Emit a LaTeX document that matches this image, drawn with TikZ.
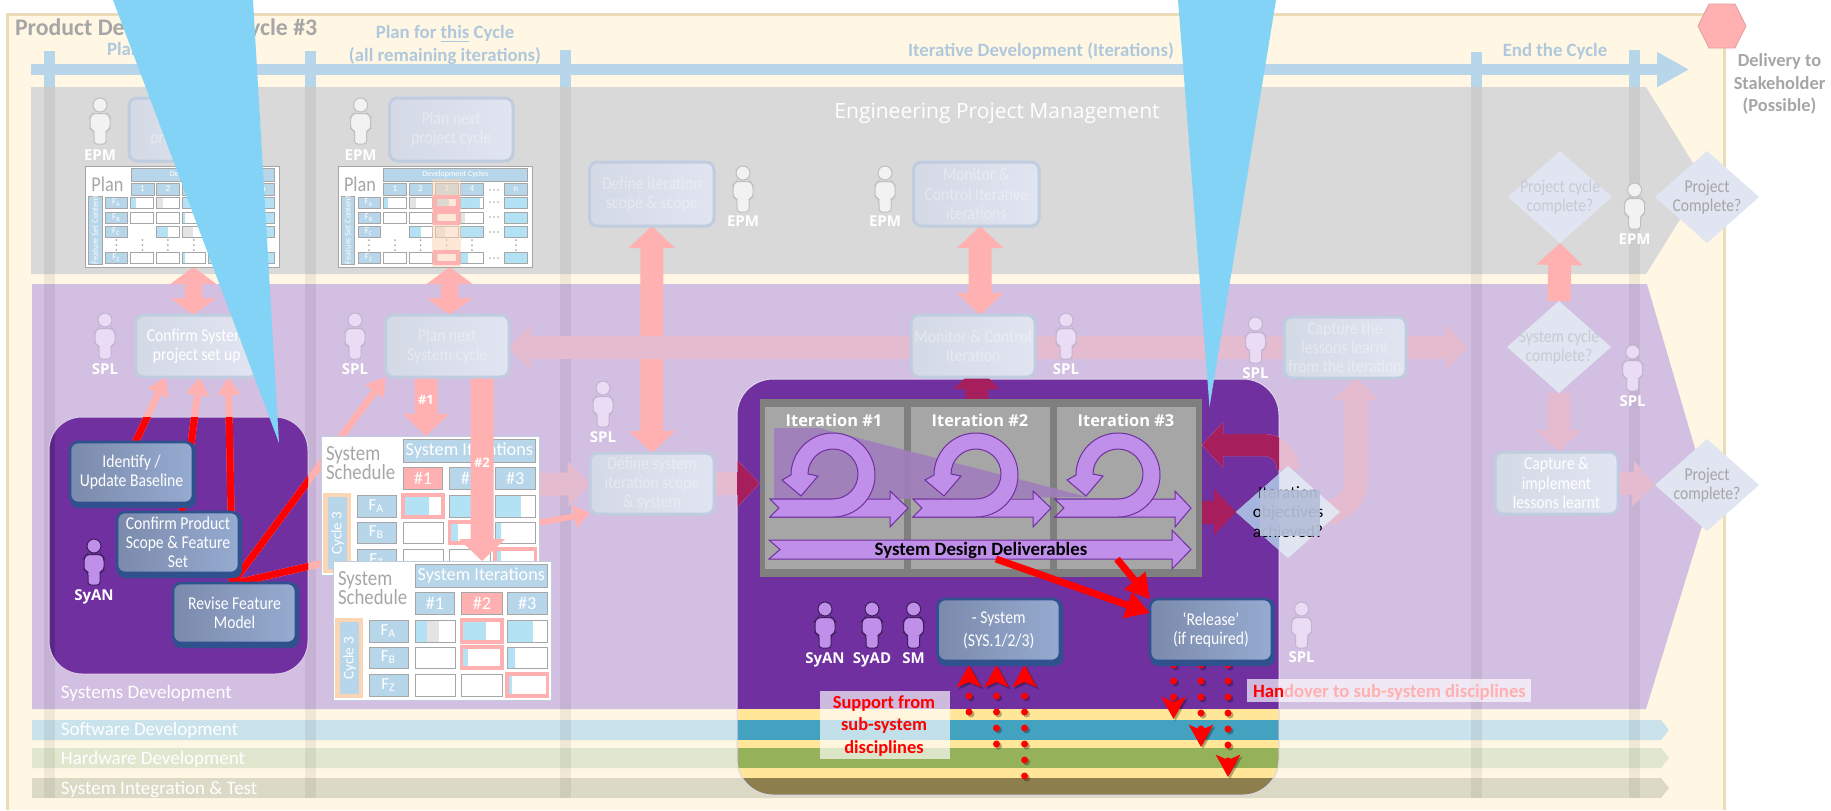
\documentclass[tikz,border=0pt]{standalone}
\usepackage{fontspec}
\setmainfont{Carlito}
\newfontfamily\osans{Open Sans}
\newfontfamily\cond[FakeStretch=0.87]{Carlito}
\usetikzlibrary{arrows.meta,shapes.geometric,calc}
\definecolor{frameY}{HTML}{FFF7E3}\definecolor{frameB}{HTML}{EBDCB8}
\definecolor{timeB}{HTML}{B7D6EA}\definecolor{timeT}{HTML}{AFC8DC}
\definecolor{grayband}{HTML}{D9D9D9}\definecolor{lilac}{HTML}{D3BFE1}
\definecolor{swc}{HTML}{C9E2EB}\definecolor{hwc}{HTML}{DFE7CE}\definecolor{sitc}{HTML}{DCD9C6}
\definecolor{purp}{HTML}{7030A0}\definecolor{purpd}{HTML}{5A2785}
\definecolor{pinkc}{HTML}{FFB0B0}\definecolor{pinkl}{HTML}{E4BBCF}\definecolor{crim}{HTML}{A71E5C}
\definecolor{wedge}{HTML}{82D3F5}\definecolor{framegr}{HTML}{7F7F7F}\definecolor{panelgr}{HTML}{A6A6A6}
\definecolor{loopc}{HTML}{C08FEA}\definecolor{edgeb}{HTML}{2F528F}\definecolor{shadeP}{HTML}{A07EBC}
\definecolor{blueL}{HTML}{7B8AAB}\definecolor{blueR}{HTML}{96ABD1}
\definecolor{lightL}{HTML}{D4DAE5}\definecolor{lightR}{HTML}{E0E5F1}\definecolor{lightE}{HTML}{C0CCDF}
\definecolor{cblue}{HTML}{B3E2F5}\definecolor{cgrey}{HTML}{E4E4E4}\definecolor{peach}{HTML}{FCD5B5}
\definecolor{greytx}{HTML}{A6A6A6}\definecolor{faintd}{HTML}{C6CAD4}
\definecolor{ybd}{HTML}{FFE699}\definecolor{teal2}{HTML}{43A2BF}\definecolor{grn2}{HTML}{95B25A}\definecolor{brn2}{HTML}{8C7F4D}
\definecolor{sfill}{HTML}{EADCF4}\definecolor{sedge}{HTML}{C2B4D0}\definecolor{dedge}{HTML}{3B1E5A}\definecolor{diab}{HTML}{A5B5DE}\definecolor{blurb}{HTML}{B4BFD9}
\newcounter{tn}
\newcommand\fz[2]{\fontsize{#1}{#2}\selectfont}
\newcommand\lbl[3]{\stepcounter{tn}\node[tx,#1] (t\arabic{tn}) at (#2) {#3};}
\newcommand\rnode[7]{\node[inner sep=0,outer sep=0,align=center,#1,minimum width={(#4-#2)*0.5pt},minimum height={(#5-#3)*0.5pt}] (#6) at ({(#2+#4)/2},{(#3+#5)/2}) {#7};}
\newcommand\bluebox[6]{\fill[edgeb,rounded corners=4pt] (#2,#3) rectangle ({#4+3},{#5+5});
  \rnode{bluebx}{#2}{#3}{#4}{#5}{#1}{#6}}
\newcommand\lightbox[7][]{\rnode{lightbx,text=white,#1}{#3}{#4}{#5}{#6}{#2}{#7}}
\newcommand\person[7]{\begin{scope}[shift={(#1,#2)}]
  \filldraw[fill=#3,draw=#4,line width=.5pt,rounded corners=1.5pt] (-10,19)--(-7,15.5)--(7,15.5)--(10,19)--(10,31)--(6,33)--(6,46)--(-6,46)--(-6,33)--(-10,31)--cycle;
  \filldraw[fill=#3,draw=#4,line width=.5pt] (0,7) circle[radius=3.5pt];
  \end{scope}
  \lbl{anchor=base,text=white,font={\osans\bfseries\fz{#7}{9}}}{#1,#5}{#6}}
\newcommand\cellb[7]{\fill[white] (#1,#2) rectangle (#3,#4);
  \fill[cblue] (#1,#2) rectangle ({#1+(#3-#1)*#5},#4);
  \fill[cgrey] ({#1+(#3-#1)*#5},#2) rectangle ({#1+(#3-#1)*(#5+#6)},#4);
  \draw[#7] (#1,#2) rectangle (#3,#4);}
\tikzset{
  tx/.style={inner sep=0,outer sep=0,align=center},
  bluebx/.style={rectangle,rounded corners=4pt,draw=edgeb,line width=1.3pt,left color=blueL,right color=blueR,text=white,font={\cond\fz{9}{9.6}}},
  lightbx/.style={rectangle,rounded corners=4pt,draw=lightE,line width=1.5pt,left color=lightL,right color=lightR,font={\cond\fz{9}{9.6}}},
  faintb/.style={text opacity=.35},
  dia/.style={diamond,fill=lightR,inner sep=0,outer sep=0,aspect=1.13},
  blk/.style={line width=11.5pt,-{Triangle[length=11pt,width=22.5pt]}},
  blkd/.style={line width=11.5pt,{Triangle[length=11pt,width=22.5pt]}-{Triangle[length=11pt,width=22.5pt]}},
  blks/.style={line width=8.5pt,{Triangle[length=8.5pt,width=22.5pt]}-{Triangle[length=8.5pt,width=22.5pt]}},
  edg/.style={draw=panelgr,line width=.5pt},
  pedg/.style={draw=pinkc,line width=1.6pt},
  hdr/.style={fill=timeB,draw=panelgr,line width=.4pt,text=white},
  loopst/.style={fill=loopc,draw=purp,line width=.5pt},
  dotln/.style={line width=3.5pt,dash pattern=on 0pt off 8pt,line cap=round},
  rarw/.style={-{Stealth[length=11pt,width=12pt,inset=2.5pt]}},
}
\newcommand\loopa[2]{\begin{scope}[shift={(#1,475)}]
  \draw[loopst] (-63,24)--(57,24)--(57,16)--(#2,33)--(57,52)--(57,42)--(-63,42)--(-54,33)--cycle;
  \draw[loopst] (-63,24)--(0,24) arc[start angle=-90,end angle=180,radius=12.5pt] -- (-15,1)--(-32,21)--(-51,5)--(-42,0) arc[start angle=180,end angle=-90,radius=21pt] --(-63,42)--(-54,33)--cycle;
  \end{scope}}
\newcommand\dotarrow[2]{\draw[dotln,rarw,black,opacity=.28,transform canvas={shift={(1pt,-1pt)}}] #1 -- #2;
  \draw[dotln,rarw,red] #1 -- #2;}
\newcommand\plantable[1]{
  \rnode{fill=white,draw=panelgr,line width=.5pt}{338}{166}{532}{267}{#1}{}
  \lbl{anchor=base west,text=greytx,font={\cond\fz{10.5}{11}}}{344,191}{Plan}
  \rnode{hdr,font={\fz{4}{4}}}{383.5}{168}{527}{181}{#1h}{Development Cycles}
  \foreach \a/\b/\c in {383.5/406.5/1,409/432/2,435/458/3,460.6/483/4,504.5/527/n}{
    \rnode{hdr,font={\fz{4.5}{5}}}{\a}{183}{\b}{195}{#1c\c}{\c}}
  \rnode{hdr,font={\fz{4.2}{5}}}{341}{197}{354.7}{263}{#1f}{\rotatebox{90}{Feature Set Content}}
  \foreach \y/\z/\c in {197/208/A,212/223/B,226/237/C,252/263/Z}{
    \rnode{hdr,font={\fz{4.5}{5}}}{358}{\y}{380}{\z}{#1r\c}{F\textsubscript{\c}}}
  \cellb{383.5}{197}{406.5}{208}{.2}{0}{edg}\cellb{409}{197}{432}{208}{0}{.3}{edg}\cellb{435}{197}{458}{208}{.6}{0}{edg}\cellb{460.6}{197}{483}{208}{.85}{0}{edg}\cellb{504.5}{197}{527}{208}{1}{0}{edg}
  \cellb{383.5}{212}{406.5}{223}{0}{0}{edg}\cellb{409}{212}{432}{223}{0}{0}{edg}\cellb{435}{212}{458}{223}{.12}{0}{edg}\cellb{460.6}{212}{483}{223}{0}{.2}{edg}\cellb{504.5}{212}{527}{223}{1}{0}{edg}
  \cellb{409}{226}{432}{237}{.5}{0}{edg}\cellb{435}{226}{458}{237}{0}{.45}{edg}\cellb{460.6}{226}{483}{237}{1}{0}{edg}\cellb{504.5}{226}{527}{237}{1}{0}{edg}
  \cellb{383.5}{252}{406.5}{263}{0}{0}{edg}\cellb{409}{252}{432}{263}{0}{0}{edg}\cellb{435}{252}{458}{263}{.12}{0}{edg}\cellb{460.6}{252}{483}{263}{.35}{0}{edg}\cellb{504.5}{252}{527}{263}{1}{0}{edg}
  \foreach \x in {369,395,420.5,446.5,472,516}{\foreach \y in {240,245,250}{\fill[panelgr] (\x,\y) circle[radius=.5pt];}}
  \foreach \y in {202,217,232,258}{\foreach \x in {490,494,498}{\fill[panelgr] (\x,\y) circle[radius=.45pt];}}
  \foreach \x in {490,494,498}{\fill[panelgr] (\x,190) circle[radius=.45pt];}
}
\newcommand\schedbase[2]{
  \ifnum#2=1 \colorlet{hdone}{pinkc}\else\colorlet{hdone}{timeB}\fi
  \ifnum#2=2 \colorlet{hdtwo}{pinkc}\else\colorlet{hdtwo}{timeB}\fi
  \rnode{fill=white,draw=lightE,line width=.4pt}{333}{561}{551.6}{700}{#1}{}
  \lbl{anchor=base west,text=greytx,font={\cond\fz{10.8}{10}}}{338,585}{System}
  \lbl{anchor=base west,text=greytx,font={\cond\fz{10.8}{10}}}{338,604}{Schedule}
  \rnode{hdr,font={\fz{9.1}{9}}}{415}{564}{547.6}{587}{#1h}{System Iterations}
  \rnode{hdr,font={\fz{9.1}{9}},fill=hdone}{415}{592}{454.8}{614}{#1n1}{\#1}
  \rnode{hdr,font={\fz{9.1}{9}},fill=hdtwo}{461.8}{592}{502}{614}{#1n2}{\#2}
  \rnode{hdr,font={\fz{9.1}{9}}}{507}{592}{547.6}{614}{#1n3}{\#3}
  \rnode{fill=peach}{335}{618}{363}{698}{#1cy}{}
  \rnode{fill=timeB,text=white,font={\fz{7.5}{8}}}{340}{622}{359}{694}{#1cyl}{\rotatebox{90}{Cycle 3}}
  \rnode{hdr,font={\fz{8.4}{9}}}{369}{620}{408}{642}{#1fa}{F\textsubscript{A}}
  \rnode{hdr,font={\fz{8.4}{9}}}{369}{647}{408}{668}{#1fb}{F\textsubscript{B}}
  \rnode{hdr,font={\fz{8.4}{9}}}{369}{674}{408}{696}{#1fz}{F\textsubscript{Z}}
}
\pgfdeclarelayer{bands}\pgfdeclarelayer{purple}\pgfdeclarelayer{linksA}\pgfdeclarelayer{schedA}\pgfdeclarelayer{links}\pgfdeclarelayer{over}
\pgfsetlayers{bands,purple,linksA,schedA,links,main,over}
\begin{document}
\begin{tikzpicture}[x=0.5pt,y=-0.5pt]
\useasboundingbox (0,0) rectangle (1831,810);
%% ---------- background bands
\begin{pgfonlayer}{bands}
\fill[white] (0,0) rectangle (1831,810);
\fill[frameY] (7,14) rectangle (1724,810);
\draw[frameB,line width=1.5pt] (7.5,810) -- (7.5,14.5) -- (1724,14.5) -- (1724,810);
\fill[grayband] (31,87) -- (1646,87) -- (1704,181) -- (1646,274) -- (31,274) -- cycle;
\fill[lilac] (32,284) -- (1647,284) -- (1710,500) -- (1646,709) -- (32,709) -- cycle;
\fill[swc] (32,720) -- (1661,720) -- (1669,730) -- (1661,740) -- (32,740) -- cycle;
\fill[hwc] (32,748) -- (1661,748) -- (1669,758) -- (1661,768) -- (32,768) -- cycle;
\fill[sitc] (32,778) -- (1661,778) -- (1669,788) -- (1661,798) -- (32,798) -- cycle;
\foreach \a/\b/\t in {43.5/54.5/51,305/315.5/51,559.5/570.5/49.5,1471/1482/52,1629/1640/49.5}{
  \fill[timeB] (\a,\t) rectangle (\b,87);
  \fill[black,opacity=.06] (\a,87) rectangle (\b,798);}
\coordinate (tlS) at (31,69.5); \coordinate (tlE) at (1689,69.5);
\draw[timeB,line width=5.5pt,-{Triangle[length=16pt,width=16.5pt]}] (tlS) -- (tlE);
\end{pgfonlayer}
%% ---------- purple boxes with the stronger stripes
\begin{pgfonlayer}{purple}
\begin{scope}
\path[clip,rounded corners=16.5pt] (49,417) rectangle (308,674);
\fill[purp] (49,417) rectangle (308,674);
\fill[purpd] (49,417) rectangle (54.5,674);
\end{scope}
\draw[white!75!purp,line width=.5pt,rounded corners=16.5pt] (49,417) rectangle (308,674);
\begin{scope}
\path[clip,rounded corners=18pt] (737,379) rectangle (1279,795);
\fill[purp] (737,379) rectangle (1279,795);
\fill[ybd] (737,709) rectangle (1279,795);
\fill[teal2] (737,720) rectangle (1279,740);
\fill[grn2] (737,748) rectangle (1279,768);
\fill[brn2] (737,778) rectangle (1279,795);
\end{scope}
\draw[white!80!purp,line width=.5pt,rounded corners=18pt] (737,379) rectangle (1279,795);
\end{pgfonlayer}
%% ---------- titles
\lbl{anchor=base west,text=greytx,font={\bfseries\fz{11.9}{13}}}{15,35}{Product Development Cycle \#3}
\lbl{anchor=base west,text=timeT,font={\bfseries\fz{9.4}{10}}}{107,55}{Plan}
\lbl{anchor=base,text=timeT,font={\bfseries\fz{9.4}{10}}}{445,38}{Plan for \underline{this} Cycle}
\lbl{anchor=base,text=timeT,font={\bfseries\fz{9.4}{10}}}{445,61}{(all remaining iterations)}
\lbl{anchor=base,text=timeT,font={\bfseries\fz{9.4}{10}}}{1041,56}{Iterative Development (Iterations)}
\lbl{anchor=base,text=timeT,font={\bfseries\fz{9.4}{10}}}{1555,56}{End the Cycle}
\lbl{anchor=base,text=white,font={\osans\fz{10.5}{12}}}{997,118}{Engineering Project Management}
\lbl{anchor=base west,text=white,font={\fz{9.5}{11}}}{61,698}{Systems Development}
\lbl{anchor=base west,text=white,font={\fz{9.5}{11}}}{61,735}{Software Development}
\lbl{anchor=base west,text=white,font={\fz{9.5}{11}}}{61,764}{Hardware Development}
\lbl{anchor=base west,text=white,font={\fz{9.5}{11}}}{61,794}{System Integration \& Test}
%% ---------- delivery
\fill[pinkc,draw=pinkc!90!black,line width=.4pt] (1698,26)--(1709,4)--(1735,4)--(1746,26)--(1735,48)--(1709,48)--cycle;
\lbl{text=greytx,font={\bfseries\fz{9.2}{11.3}}}{1779.5,84}{Delivery to\\Stakeholder\\(Possible)}
%% ---------- light boxes
\lightbox[faintb]{boxA}{129}{98}{252}{161}{Confirm\\project cycle}
\lightbox[faintb]{boxB}{389.5}{98}{513}{161}{Plan next\\project cycle}
\lightbox[faintb]{boxC}{589.5}{162}{714}{226}{Define iteration\\scope \& scope}
\lightbox[faintb]{boxD}{913.5}{162}{1039}{226}{Monitor \&\\Control Iterative\\iterations}
\lightbox{boxE}{135.6}{315}{258}{377}{Confirm System\\project set up}
\lightbox[faintb]{boxF}{385.5}{315}{509}{377}{Plan next\\System cycle}
\lightbox[faintb]{boxG}{590}{453}{714}{514}{Define system\\iteration scope\\\& system}
\lightbox[faintb]{boxH}{911}{315}{1035}{377}{Monitor \& Control\\Iteration}
\lightbox[faintb]{boxI}{1284}{317}{1406}{378}{Capture the\\lessons learnt\\from the iteration}
\lightbox{boxJ}{1495}{452}{1618}{514}{Capture \&\\implement\\lessons learnt}
%% ---------- diamonds
\node[dia,minimum width=52pt,minimum height=46pt] (d1) at (1560,197) {};
\node[dia,minimum width=52pt,minimum height=46pt] (d2) at (1707,197) {};
\node[dia,minimum width=52pt,minimum height=46pt] (d3) at (1559,347) {};
\node[dia,minimum width=52pt,minimum height=46pt] (d4) at (1707,485) {};
\node[dia,minimum width=52pt,minimum height=46pt] (d5) at (1288,512) {};
\begin{scope}
\path[clip,rounded corners=18pt] (737,379) rectangle (1279,795);
\fill[diab] (d5.north)--(d5.east)--(d5.south)--(d5.west)--cycle;
\end{scope}
\lbl{text=faintd,font={\cond\fz{9}{9.6}}}{1560,197}{Project cycle\\complete?}
\lbl{text=greytx,font={\cond\fz{9}{9.6}}}{1707,197}{Project\\Complete?}
\lbl{text=faintd,font={\cond\fz{9}{9.6}}}{1559,347}{System cycle\\complete?}
\lbl{text=greytx,font={\cond\fz{9}{9.6}}}{1707,485}{Project\\complete?}
\lbl{text=black,font={\fz{8.6}{9.6}}}{1288,512}{Iteration\\objectives\\achieved?}
\fill[fill=blurb,opacity=.93] (1260,490) rectangle (1320,536);
%% ---------- iteration frame
\rnode{fill=framegr}{759.5}{399}{1202}{577}{frame}{}
\rnode{fill=panelgr}{765}{407}{904}{569}{it1}{}
\rnode{fill=panelgr}{911}{407}{1050}{569}{it2}{}
\rnode{fill=panelgr}{1057}{407}{1196}{569}{it3}{}
\fill[shadeP,opacity=.9] (774,428)--(819,428)--(1088,497)--(774,500)--cycle;
\lbl{anchor=base,text=white,font={\osans\bfseries\fz{8.2}{9}}}{834,426}{Iteration  \#1}
\lbl{anchor=base,text=white,font={\osans\bfseries\fz{8.2}{9}}}{980,426}{Iteration \#2}
\lbl{anchor=base,text=white,font={\osans\bfseries\fz{8.2}{9}}}{1126,426}{Iteration \#3}
\loopa{833}{75}\loopa{976}{75}\loopa{1118}{73}
\draw[loopst] (769,540)--(1172,540)--(1172,530)--(1191,549.5)--(1172,569)--(1172,559)--(769,559)--(780,549.5)--cycle;
\lbl{text=black,font={\bfseries\fz{9.4}{10}}}{981,550}{System Design Deliverables}
\coordinate (dlv) at (981,559);
%% ---------- blue boxes
\bluebox{identify}{70}{442}{193}{503}{Identify /\\Update Baseline}
\bluebox{confirm}{117}{512}{239}{573}{Confirm Product\\Scope \& Feature\\Set}
\bluebox{revise}{173}{583}{296}{643}{Revise Feature\\Model}
\bluebox{sysbox}{937.5}{599}{1060}{661}{- System\\[2pt](SYS.1/2/3)}
\bluebox{rel}{1150}{599}{1272}{661}{‘Release’\\(if required)}
%% ---- red deliverables links (they lie over the frame)
\draw[red,line width=3.5pt,-{Triangle[length=12pt,width=13pt]}] ([xshift=7.5pt]dlv) -- ([yshift=8.5pt]rel.west);
\draw[red,line width=3.5pt,-{Triangle[length=12pt,width=13pt]}] ([xshift=68pt]dlv) -- (rel.north west);
%% ---------- people
\person{100}{98}{white!95!black}{black!25}{160}{EPM}{7.5}
\person{360.6}{98}{white!95!black}{black!25}{160}{EPM}{7.5}
\person{743}{166}{white!95!black}{black!25}{226}{EPM}{7.5}
\person{885}{166}{white!95!black}{black!25}{226}{EPM}{7.5}
\person{1634.6}{183}{white!95!black}{black!25}{244}{EPM}{7.5}
\person{105}{313}{sfill}{sedge}{374}{SPL}{7.5}
\person{355}{313}{sfill}{sedge}{374}{SPL}{7.5}
\person{603}{381}{sfill}{sedge}{442}{SPL}{7.5}
\person{1066}{313}{sfill}{sedge}{374}{SPL}{7.5}
\person{1255.5}{317}{sfill}{sedge}{378}{SPL}{7.5}
\person{1632.6}{345}{sfill}{sedge}{406}{SPL}{7.5}
\person{1301.6}{602}{sfill}{sedge}{662}{SPL}{7.5}
\person{94}{539}{loopc}{dedge}{600}{SyAN}{7.5}
\person{825}{602}{loopc}{dedge}{663}{SyAN}{7.5}
\person{872}{602}{loopc}{dedge}{663}{SyAD}{7.5}
\person{913.6}{602}{loopc}{dedge}{663}{SM}{7.5}
%% ---------- plan tables
\begin{scope}[shift={(-252.6,0)}]
\plantable{planA}
\end{scope}
\plantable{planB}
\fill[peach,opacity=.55] (432,179) rectangle (461,267);
\draw[pedg] (435,197) rectangle (458,208);
\draw[pedg] (435,212) rectangle (458,223);
\draw[pedg] (435,252) rectangle (458,263);
%% ---------- schedules
\begin{pgfonlayer}{schedA}
\begin{scope}[shift={(-12,-125)}]
\schedbase{schA}{1}
\cellb{415}{620}{455}{642}{.65}{0}{pedg}\cellb{461.8}{620}{502}{642}{.6}{0}{edg}\cellb{507}{620}{547.6}{642}{.63}{0}{edg}
\cellb{415}{647}{455}{668}{0}{0}{edg}\cellb{461.8}{647}{502}{668}{.2}{0}{pedg}\cellb{507}{647}{547.6}{668}{.15}{0}{edg}
\cellb{415}{674}{455}{696}{0}{0}{edg}\cellb{461.8}{674}{502}{696}{0}{0}{edg}\cellb{507}{674}{547.6}{696}{.15}{0}{pedg}
\end{scope}
\end{pgfonlayer}
\schedbase{schB}{2}
\cellb{415}{620}{455}{642}{.3}{.3}{edg}\cellb{461.8}{620}{502}{642}{.6}{0}{pedg}\cellb{507}{620}{547.6}{642}{.63}{0}{edg}
\cellb{415}{647}{455}{668}{0}{0}{edg}\cellb{461.8}{647}{502}{668}{.15}{0}{pedg}\cellb{507}{647}{547.6}{668}{.2}{0}{edg}
\cellb{415}{674}{455}{696}{0}{0}{edg}\cellb{461.8}{674}{502}{696}{0}{0}{edg}\cellb{507}{674}{547.6}{696}{.12}{0}{pedg}
%% ---------- red links of the left box
\newcommand\leftlinks{
  \draw[line width=3.5pt,-{Triangle[length=9pt,width=11pt]}] ([xshift=2pt]identify.north) -- ([xshift=-15.5pt]boxE.south);
  \draw[line width=3.5pt,-{Triangle[length=9pt,width=11pt]}] ([xshift=2pt]confirm.north) -- ([xshift=1.5pt]boxE.south);
  \draw[line width=3.5pt,-{Triangle[length=9pt,width=11pt]}] ([xshift=-1pt]revise.north) -- ([xshift=15.75pt]boxE.south);
  \draw[line width=3.5pt,-{Triangle[length=9pt,width=11pt]}] ([xshift=-1pt]revise.north) -- (boxF.south west);
  \draw[line width=3.5pt] ([xshift=1pt]revise.north) -- ([yshift=-29pt]schA.west);
}
\begin{pgfonlayer}{linksA}
\begin{scope}[color=pinkc]\leftlinks\end{scope}
\begin{scope}
\path[clip,rounded corners=16.5pt] (49,417) rectangle (308,674);
\begin{scope}[color=red]\leftlinks\end{scope}
\end{scope}
\end{pgfonlayer}
%% ---------- block connectors
\coordinate (iOut) at (1467.6,347);
\newcommand\crimlinks{
  \draw[blk] (boxG.east) -- (boxG.east -| frame.west);
  \draw[line width=11pt,rounded corners=12pt,-{Triangle[length=10.5pt,width=22pt]}] (d5.north) |- ([yshift=21.5pt]frame.east);
}
\begin{pgfonlayer}{links}
\draw[blks,pinkc] ([xshift=5.5pt]planA.south) -- ([xshift=-1.7pt]boxE.north);
\draw[blks,pinkc] ([xshift=7.3pt]planB.south) -- ([xshift=1.2pt]boxF.north);
\draw[blkd,pinkc] (boxC.south) -- (boxG.north);
\draw[blkd,pinkc] ([xshift=2pt]boxD.south) -- ([xshift=3.5pt]boxH.north);
\draw[blk,pinkl] (boxI.west) -- (boxI.west -| boxF.east);
\draw[blk,pinkl] (boxI.east) -- (iOut);
\draw[blk,pinkl,rounded corners=15pt] (d5.east) -| ([xshift=5.5pt]boxI.south);
\draw[blk,crim] ([xshift=-2pt]frame.north) -- ([xshift=2pt,yshift=5pt]boxH.south);
\draw[blk,crim] ([yshift=-12pt]frame.east) -- (d5.west);
\begin{scope}[color=pinkl]\crimlinks\end{scope}
\begin{scope}
\path[clip,rounded corners=18pt] (737,379) rectangle (1279,795);
\begin{scope}[color=crim]\crimlinks\end{scope}
\end{scope}
\draw[blk,pinkl] ([yshift=10.5pt]schA.east) -- (boxG.west);
\draw[pinkc,line width=3pt,-{Triangle[length=8pt,width=11pt]}] ([yshift=-8.5pt]schA.east) -- ([yshift=-15pt]boxG.west);
\draw[blk,pinkc] (d3.north) -- (d1.south);
\draw[blk,pinkl] (d3.south) -- ([xshift=1.2pt]boxJ.north);
\draw[blk,pinkl] (boxJ.east) -- (d4.west);
\draw[blk,pinkc] ([xshift=-10.6pt]boxF.south) -- ([xshift=-2.15pt]schA.north);
\draw[blk,pinkc] ([xshift=17.4pt]boxF.south) -- ([xshift=19.85pt]schB.north);
%% ---- dotted
\coordinate (u1) at (969,712);\coordinate (u2) at (996.5,744);\coordinate (u3) at (1024.6,776);
\coordinate (v1) at (1173.5,719);\coordinate (v2) at (1201,747);\coordinate (v3) at (1228,777);
\dotarrow{(u1)}{([xshift=-14.9pt,yshift=-2pt]sysbox.south)}
\dotarrow{(u2)}{([xshift=-1.1pt,yshift=-2pt]sysbox.south)}
\dotarrow{(u3)}{([xshift=12.9pt,yshift=-2pt]sysbox.south)}
\dotarrow{([xshift=-18.75pt,yshift=-2pt]rel.south)}{(v1)}
\dotarrow{([xshift=-5pt,yshift=-2pt]rel.south)}{(v2)}
\dotarrow{([xshift=8.5pt,yshift=-2pt]rel.south)}{(v3)}
\end{pgfonlayer}
\lbl{text=white,font={\osans\bfseries\fz{6.5}{8}}}{426,400}{\#1}
\lbl{text=white,font={\osans\bfseries\fz{6.5}{8}}}{482,463}{\#2}
%% ---------- callout labels
\rnode{fill=white,fill opacity=.67}{820}{691}{950}{759}{supbox}{}
\lbl{text=red,font={\bfseries\fz{9.2}{11.2}}}{884,726}{Support from\\sub-system\\disciplines}
\rnode{fill=white,fill opacity=.67}{1247}{679}{1531}{702}{hanbox}{}
\lbl{anchor=base west,font={\bfseries\fz{9.35}{10}}}{1253,697}{\textcolor{red}{Han}\textcolor{pinkc}{dover to sub-system disciplines}}
%% ---------- wedges
\begin{pgfonlayer}{over}
\fill[wedge] (113,0) -- (253,0) -- (279,443) -- cycle;
\fill[wedge] (1178,0) -- (1276,0) -- (1209.5,407) -- cycle;
\end{pgfonlayer}
\end{tikzpicture}
\end{document}
